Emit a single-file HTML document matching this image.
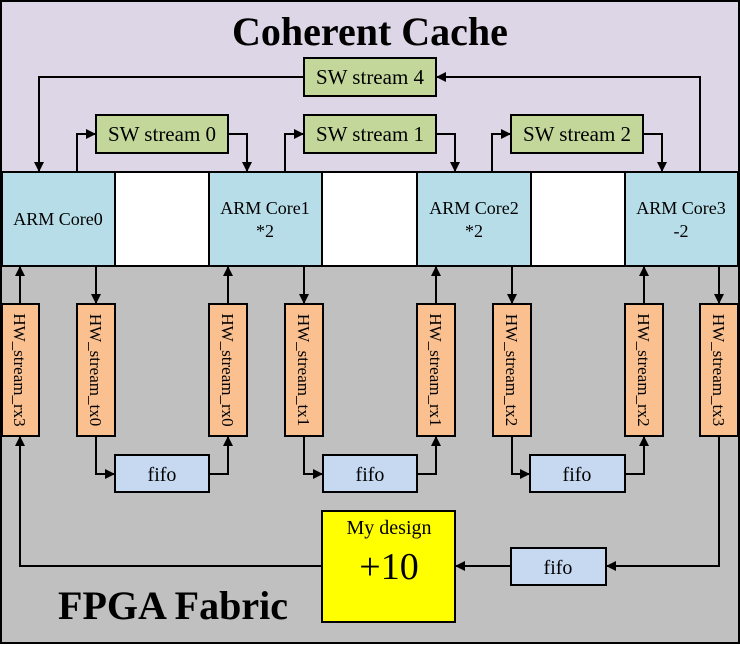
<!DOCTYPE html>
<html><head><style>body{margin:0}svg{display:block}text{font-family:"Liberation Serif",serif}</style></head><body>
<svg width="740" height="646" viewBox="0 0 740 646" xmlns="http://www.w3.org/2000/svg">
<defs><marker id="a" markerWidth="10" markerHeight="10" refX="9" refY="5" orient="auto" markerUnits="userSpaceOnUse"><path d="M0,0 L10,5 L0,10 Z" fill="#000"/></marker></defs>
<rect x="0" y="0" width="740" height="646" fill="#fff"/>
<rect x="1" y="1" width="738" height="172" fill="#ddd6e6" stroke="#000" stroke-width="2"/>
<rect x="1" y="266" width="738" height="377" fill="#c0c0c0" stroke="#000" stroke-width="2"/>
<rect x="1" y="172" width="738" height="94" fill="#fff" stroke="#000" stroke-width="2"/>
<g fill="#b7dde8" stroke="#000" stroke-width="2">
<rect x="2" y="172" width="113" height="94"/><rect x="209" y="172" width="113" height="94"/><rect x="417" y="172" width="114" height="94"/><rect x="625" y="172" width="113" height="94"/></g>
<g font-size="18" text-anchor="middle">
<text x="58" y="225">ARM Core0</text>
<text x="265" y="214">ARM Core1</text><text x="265" y="237">*2</text>
<text x="474" y="214">ARM Core2</text><text x="474" y="237">*2</text>
<text x="681" y="214">ARM Core3</text><text x="681" y="237">-2</text></g>
<text x="370" y="45" font-size="40" font-weight="bold" text-anchor="middle">Coherent Cache</text>
<text x="173" y="619" font-size="40" font-weight="bold" text-anchor="middle">FPGA Fabric</text>
<g fill="#c4d79b" stroke="#000" stroke-width="2">
<rect x="304" y="58" width="132" height="38"/><rect x="96" y="115" width="132" height="38"/><rect x="304" y="115" width="132" height="38"/><rect x="511" y="115" width="132" height="38"/></g>
<g font-size="21" text-anchor="middle">
<text x="370" y="84">SW stream 4</text><text x="162" y="141">SW stream 0</text><text x="370" y="141">SW stream 1</text><text x="577" y="141">SW stream 2</text></g>
<g fill="none" stroke="#000" stroke-width="2" marker-end="url(#a)">
<path d="M304,77 H39 V171"/><path d="M700,172 V77 H437"/>
<path d="M77,172 V134 H95"/><path d="M228,134 H247 V171"/>
<path d="M285,172 V134 H303"/><path d="M436,134 H455 V171"/>
<path d="M492,172 V134 H510"/><path d="M643,134 H662 V171"/>
<path d="M20,304 V267"/><path d="M96,266 V303"/>
<path d="M228,304 V267"/><path d="M304,266 V303"/>
<path d="M436,304 V267"/><path d="M512,266 V303"/>
<path d="M644,304 V267"/><path d="M719,266 V303"/>
<path d="M96,436 V474 H114"/><path d="M209,474 H228 V437"/>
<path d="M304,436 V474 H322"/><path d="M417,474 H436 V437"/>
<path d="M512,436 V474 H529"/><path d="M625,474 H644 V437"/>
<path d="M719,436 V566 H607"/><path d="M511,566 H456"/>
<path d="M322,566 H20 V437"/>
</g>
<g fill="#fac090" stroke="#000" stroke-width="2">
<rect x="2" y="304" width="37" height="132"/><rect x="77" y="304" width="38" height="132"/><rect x="209" y="304" width="38" height="132"/><rect x="285" y="304" width="38" height="132"/><rect x="417" y="304" width="38" height="132"/><rect x="493" y="304" width="38" height="132"/><rect x="625" y="304" width="38" height="132"/><rect x="700" y="304" width="38" height="132"/></g>
<g font-size="17" text-anchor="middle">
<text transform="translate(14,370) rotate(90)">HW_stream_rx3</text>
<text transform="translate(90,370) rotate(90)">HW_stream_tx0</text>
<text transform="translate(222,370) rotate(90)">HW_stream_rx0</text>
<text transform="translate(298,370) rotate(90)">HW_stream_tx1</text>
<text transform="translate(430,370) rotate(90)">HW_stream_rx1</text>
<text transform="translate(506,370) rotate(90)">HW_stream_tx2</text>
<text transform="translate(638,370) rotate(90)">HW_stream_rx2</text>
<text transform="translate(713,370) rotate(90)">HW_stream_tx3</text></g>
<g fill="#c6d9f1" stroke="#000" stroke-width="2">
<rect x="115" y="455" width="94" height="37"/><rect x="323" y="455" width="94" height="37"/><rect x="530" y="455" width="95" height="37"/><rect x="511" y="548" width="95" height="37"/></g>
<g font-size="20" text-anchor="middle">
<text x="162" y="481">fifo</text><text x="370" y="481">fifo</text><text x="577" y="481">fifo</text><text x="558" y="574">fifo</text></g>
<rect x="322" y="511" width="133" height="111" fill="#ffff00" stroke="#000" stroke-width="2"/>
<text x="389" y="534" font-size="20" text-anchor="middle">My design</text>
<text x="389" y="579" font-size="38" text-anchor="middle">+10</text>
</svg>
</body></html>
